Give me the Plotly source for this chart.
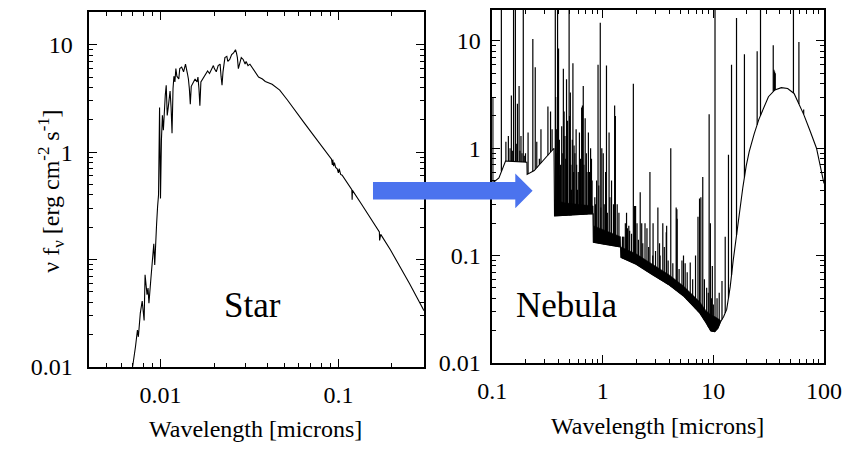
import numpy as np
import plotly.graph_objects as go

# ---------------- Star spectrum (wavelength in microns, nu f_nu) ----------------
star_wl = [0.00690, 0.00697, 0.00724, 0.00742, 0.00751, 0.00770, 0.00789, 0.00809, 0.00819,
           0.00840, 0.00851, 0.00861, 0.00883, 0.00905, 0.00917, 0.00928, 0.00940, 0.00951,
           0.00963, 0.00975, 0.00988, 0.01000, 0.01012, 0.01025, 0.01038, 0.01051, 0.01064,
           0.01077, 0.01091, 0.01105, 0.01118, 0.01132, 0.01147, 0.01161, 0.01176, 0.01190,
           0.01205, 0.01220, 0.01236, 0.01267, 0.01283, 0.01315, 0.01348, 0.01382, 0.01417,
           0.01435, 0.01453, 0.01471, 0.01489, 0.01527, 0.01565, 0.01604, 0.01624, 0.01645,
           0.01665, 0.01687, 0.01729, 0.01773, 0.01817, 0.01840, 0.01886, 0.01934, 0.01983,
           0.02008, 0.02058, 0.02110, 0.02163, 0.02190, 0.02218, 0.02246, 0.02302, 0.02360,
           0.02390, 0.02450, 0.02512, 0.02575, 0.02640, 0.02673, 0.02706, 0.02740, 0.02775,
           0.02845, 0.02917, 0.02990, 0.03028, 0.03104, 0.03183, 0.03303, 0.03428, 0.03558,
           0.03741, 0.03883, 0.0424, 0.0468, 0.0517, 0.0564, 0.0638, 0.0722, 0.0820,
           0.0915, 0.0925, 0.0930, 0.0940, 0.0950, 0.0965, 0.0985, 0.1000, 0.1010, 0.1030,
           0.1050, 0.1190, 0.1195, 0.1200, 0.1350, 0.1530, 0.1700, 0.1705, 0.1730, 0.1960,
           0.2220, 0.2510, 0.3030]
star_flux = [0.008, 0.010, 0.0155, 0.022, 0.019, 0.0316, 0.041, 0.027, 0.072,
             0.047, 0.054, 0.039, 0.066, 0.11, 0.14, 0.089, 0.175, 0.215,
             0.31, 0.40, 2.6, 0.37, 1.3, 2.2, 1.6, 2.6, 3.4,
             4.2, 2.2, 2.6, 3.2, 3.7, 2.6, 1.5, 3.9, 5.1,
             4.5, 6.0, 5.1, 4.8, 6.0, 6.2, 5.6, 6.6, 5.4,
             4.8, 3.9, 2.8, 4.1, 4.5, 4.8, 4.5, 5.0, 3.9,
             2.7, 4.5, 4.8, 5.1, 5.4, 5.7, 5.4, 6.0, 6.4,
             6.0, 5.6, 6.4, 6.6, 5.1, 4.2, 5.6, 7.6, 7.8,
             7.0, 7.3, 8.1, 8.4, 9.0, 8.4, 7.6, 6.0, 6.6,
             7.6, 7.3, 6.6, 7.0, 6.4, 6.6, 6.0, 5.4, 5.0,
             4.8, 4.55, 4.28, 3.78, 3.06, 2.49, 1.90, 1.45, 1.11,
             0.86, 0.76, 0.85, 0.74, 0.80, 0.72, 0.70, 0.64, 0.70, 0.62,
             0.61, 0.446, 0.36, 0.44, 0.327, 0.239, 0.18, 0.15, 0.171, 0.123,
             0.0865, 0.0596, 0.0333]

# ---------------- Nebula spectrum ----------------
neb_cont_wl = [0.100, 0.102, 0.115, 0.127, 0.132, 0.206, 0.207, 0.240, 0.300, 0.362,
               0.366, 0.450, 0.600, 0.818, 0.822, 1.00, 1.45, 1.46, 2.00, 2.77,
               4.00, 5.37, 7.55, 8.50, 9.50, 10.3, 11.0, 11.6, 12.4, 13.2,
               14.2, 15.1, 16.2, 17.3, 18.5, 19.8, 21.1, 23.4, 25.8, 31.5,
               36.0, 41.2, 47.0, 53.7, 65.6, 75.0, 85.7, 100.0]
neb_cont_flux = [0.45, 0.48, 0.53, 0.70, 0.76, 0.74, 0.57, 0.62, 0.80, 1.00,
                 0.234, 0.236, 0.240, 0.245, 0.133, 0.128, 0.120, 0.096, 0.083, 0.067,
                 0.053, 0.042, 0.029, 0.024, 0.0198, 0.0195, 0.021, 0.024, 0.027, 0.0315,
                 0.051, 0.089, 0.155, 0.27, 0.435, 0.68, 0.93, 1.36, 1.86, 3.02,
                 3.50, 3.67, 3.60, 3.24, 2.07, 1.45, 1.00, 0.47]

# dense blend of weak lines just above the continuum
forest_wl = [0.366, 0.45, 0.60, 0.818, 0.822, 1.00, 1.45, 1.46, 2.00, 2.77,
             4.00, 5.37, 7.55, 8.50, 9.50, 10.3, 11.0, 11.6]
forest_lo = [0.234, 0.236, 0.240, 0.245, 0.133, 0.128, 0.120, 0.096, 0.083, 0.067,
             0.053, 0.042, 0.029, 0.024, 0.0198, 0.0195, 0.021, 0.024]
forest_hi = [0.33, 0.31, 0.30, 0.29, 0.19, 0.175, 0.15, 0.12, 0.104, 0.084,
             0.066, 0.052, 0.037, 0.031, 0.028, 0.027, 0.026, 0.025]

# emission lines: wavelength (microns) and peak nu f_nu
line_wl = [0.1014, 0.121, 0.133, 0.140, 0.145, 0.149, 0.152, 0.156, 0.162, 0.165,
           0.169, 0.175, 0.178, 0.182, 0.186, 0.191, 0.195, 0.200, 0.211, 0.233,
           0.245, 0.253, 0.267, 0.276, 0.319, 0.337, 0.348, 0.372, 0.375, 0.380,
           0.384, 0.390, 0.395, 0.398, 0.405, 0.410, 0.415, 0.425, 0.435, 0.440,
           0.447, 0.455, 0.462, 0.470, 0.480, 0.496, 0.500, 0.509, 0.515, 0.520,
           0.530, 0.537, 0.545, 0.550, 0.560, 0.574, 0.580, 0.590, 0.600, 0.615,
           0.630, 0.644, 0.655, 0.666, 0.675, 0.693, 0.710, 0.720, 0.741, 0.760,
           0.776, 0.790, 0.800, 0.847, 0.860, 0.880, 0.906, 0.920, 0.949, 0.960,
           0.980, 1.01, 1.03, 1.06, 1.08, 1.10, 1.14, 1.16, 1.20, 1.25,
           1.28, 1.30, 1.35, 1.40, 1.51, 1.52, 1.55, 1.60, 1.64, 1.67,
           1.72, 1.75, 1.82, 1.89, 1.94, 1.98, 2.04, 2.10, 2.18, 2.25,
           2.30, 2.41, 2.51, 2.60, 2.67, 2.83, 2.85, 3.00, 3.15, 3.26,
           3.30, 3.49, 3.60, 3.75, 3.78, 3.90, 4.12, 4.30, 4.61, 4.68,
           4.70, 4.90, 5.20, 5.37, 5.56, 5.80, 6.18, 6.50, 6.90, 7.26,
           7.50, 7.71, 8.02, 8.30, 8.70, 9.00, 9.16, 9.40, 9.60, 9.79,
           10.0, 10.35, 10.8, 11.3, 11.97, 12.8, 13.7, 14.6, 16.2, 19.1,
           24.9, 26.7, 34.8, 35.3, 35.8, 36.3, 53.0, 59.4, 65.6]
line_peak = [3.0, 40.0, 1.15, 1.3, 1.0, 3.1, 0.95, 40.0, 30.0, 1.1,
             2.6, 3.8, 0.95, 1.3, 0.9, 30.0, 0.85, 0.9, 1.4, 10.4,
             5.7, 1.15, 0.8, 1.5, 2.45, 2.2, 1.5, 30.0, 3.0, 1.5,
             0.9, 20.0, 2.0, 8.5, 1.2, 0.56, 0.7, 1.6, 0.9, 5.5,
             2.2, 1.3, 0.8, 4.4, 1.8, 80.0, 2.0, 3.3, 0.7, 0.41,
             1.2, 6.2, 0.6, 1.06, 0.9, 1.5, 0.7, 0.41, 0.6, 1.4,
             0.8, 2.4, 2.5, 3.8, 0.7, 1.9, 0.9, 0.6, 1.4, 0.6,
             1.0, 0.8, 0.5, 0.35, 0.3, 0.5, 6.0, 0.45, 14.8, 0.28,
             1.0, 0.9, 0.3, 0.6, 5.9, 0.25, 1.4, 0.35, 0.5, 0.3,
             2.5, 2.0, 0.3, 0.25, 0.15, 0.15, 0.15, 0.2, 0.25, 0.18,
             0.19, 0.17, 0.16, 4.0, 0.29, 0.29, 0.2, 0.14, 0.39, 0.2,
             0.13, 0.2, 0.18, 0.12, 0.6, 0.10, 0.2, 0.11, 0.28, 0.13,
             0.10, 0.2, 0.12, 0.165, 0.19, 0.09, 1.0, 0.085, 0.28, 0.27,
             0.22, 0.075, 0.09, 0.10, 0.085, 0.07, 0.086, 0.06, 0.10, 0.23,
             0.34, 0.35, 0.54, 0.06, 0.05, 0.045, 2.07, 0.2, 0.04, 0.08,
             0.035, 30.0, 0.04, 0.045, 0.058, 0.15, 0.87, 6.0, 16.4, 7.5,
             8.0, 30.0, 9.1, 5.4, 5.2, 5.0, 30.0, 9.8, 2.3]

# The page body adds an 8 px margin, so the figure is drawn 8 px in from the window edge.
OFF = 8
W, H = 865 - OFF, 459 - OFF


def px(x):
    return (x - OFF) / W


def py(y):
    return min(1.0, 1 - (y - OFF) / H)


fig = go.Figure()

# Star
fig.add_trace(go.Scatter(x=star_wl, y=star_flux, mode='lines',
                         line=dict(color='black', width=1.1),
                         xaxis='x', yaxis='y', showlegend=False, hoverinfo='skip'))

# Nebula: blended forest
poly_x = forest_wl + forest_wl[::-1]
poly_y = forest_hi + forest_lo[::-1]
fig.add_trace(go.Scatter(x=poly_x, y=poly_y, mode='lines', fill='toself',
                         fillcolor='black', line=dict(color='black', width=0.5),
                         xaxis='x2', yaxis='y2', showlegend=False, hoverinfo='skip'))

# Nebula: continuum
fig.add_trace(go.Scatter(x=neb_cont_wl, y=neb_cont_flux, mode='lines',
                         line=dict(color='black', width=1.1),
                         xaxis='x2', yaxis='y2', showlegend=False, hoverinfo='skip'))

# Nebula: emission lines rising from the continuum
base = 10 ** np.interp(np.log10(line_wl), np.log10(neb_cont_wl), np.log10(neb_cont_flux))
sx, sy = [], []
for w, b, p in zip(line_wl, base, line_peak):
    sx += [w, w, None]
    sy += [float(b), p, None]
fig.add_trace(go.Scatter(x=sx, y=sy, mode='lines', line=dict(color='black', width=1.2),
                         xaxis='x2', yaxis='y2', showlegend=False, hoverinfo='skip',
                         connectgaps=False))

serif = 'Liberation Serif'
minor_vals = [m * 10.0 ** e for e in range(-4, 3) for m in range(2, 10)]


def log_axis(rng, domain, tickvals, ticktext, anchor, standoff):
    return dict(type='log', range=rng, domain=domain, anchor=anchor,
                showline=True, linecolor='black', linewidth=1.5, mirror=True,
                ticks='inside', ticklen=8, tickwidth=1, tickcolor='black',
                tickvals=tickvals, ticktext=ticktext,
                showgrid=False, zeroline=False, ticklabelstandoff=standoff,
                tickfont=dict(family=serif, size=24, color='black'),
                minor=dict(ticks='inside', ticklen=4, tickwidth=1, tickcolor='black',
                           tickvals=minor_vals, showgrid=False))


def mirror_axis(rng, tickvals, overlaying, side, anchor):
    return dict(type='log', range=rng, overlaying=overlaying, side=side, anchor=anchor,
                showline=False, ticks='inside', ticklen=8, tickwidth=1, tickcolor='black',
                tickvals=tickvals, showticklabels=False, showgrid=False, zeroline=False,
                minor=dict(ticks='inside', ticklen=4, tickwidth=1, tickcolor='black',
                           tickvals=minor_vals, showgrid=False))


# pixels per decade on the y axes is 111; right panel top is clipped to the page top (y=8)
sx_rng, sy_rng = [-2.4, -0.519], [-2.0, -2.0 + (377 - 10) / 111]
nx_rng, ny_rng = [-1.0, 2.0], [-2.0, -2.0 + (373 - OFF) / 111]
dec = [0.001, 0.01, 0.1, 1, 10, 100]

fig.update_layout(
    width=W, height=H, margin=dict(l=0, r=0, t=0, b=0),
    paper_bgcolor='white', plot_bgcolor='white', showlegend=False,
    xaxis=log_axis(sx_rng, [px(77), px(425)], [0.01, 0.1], ['0.01', '0.1'], 'y', 6),
    yaxis=log_axis(sy_rng, [py(377), py(10)], [0.01, 0.1, 1, 10],
                   ['0.01', '', '1', '10'], 'x', 10),
    xaxis2=log_axis(nx_rng, [px(496), px(841)], [0.1, 1, 10, 100],
                    ['0.1', '1', '10', '100'], 'y2', 6),
    yaxis2=log_axis(ny_rng, [py(373), py(OFF)], [0.01, 0.1, 1, 10],
                    ['0.01', '0.1', '1', '10'], 'x2', 5),
    xaxis3=mirror_axis(sx_rng, dec, 'x', 'top', 'y'),
    yaxis3=mirror_axis(sy_rng, dec, 'y', 'right', 'x'),
    xaxis4=mirror_axis(nx_rng, dec, 'x2', 'top', 'y2'),
    yaxis4=mirror_axis(ny_rng, dec, 'y2', 'right', 'x2'),
)

# invisible traces so the mirror axes are drawn
fig.add_trace(go.Scatter(x=[0.01], y=[1], xaxis='x3', yaxis='y3', mode='markers',
                         marker=dict(opacity=0), showlegend=False, hoverinfo='skip'))
fig.add_trace(go.Scatter(x=[1], y=[1], xaxis='x4', yaxis='y4', mode='markers',
                         marker=dict(opacity=0), showlegend=False, hoverinfo='skip'))

annots = [
    dict(text='Wavelength [microns]', x=px(250), y=py(441), size=24),
    dict(text='Wavelength [microns]', x=px(668), y=py(438), size=24),
    dict(text='Star', x=px(247), y=py(314), size=35),
    dict(text='Nebula', x=px(574), y=py(314), size=35),
]
for a in annots:
    fig.add_annotation(text=a['text'], x=a['x'], y=a['y'], xref='paper', yref='paper',
                       showarrow=False, xanchor='center', yanchor='middle',
                       font=dict(family=serif, size=a['size'], color='black'))

fig.add_annotation(text='ν f<sub>ν</sub> [erg cm<sup>-2</sup> s<sup>-1</sup>]',
                   x=px(37), y=py(195), xref='paper', yref='paper', showarrow=False,
                   textangle=-90, xanchor='center', yanchor='middle',
                   font=dict(family=serif, size=24, color='black'))

# Blue arrow from the star panel to the nebula panel
arrow_px = [(372, 186), (520, 186), (520, 177), (538, 195), (520, 213), (520, 204), (372, 204)]
path = 'M ' + ' L '.join(f'{px(x):.5f},{py(y):.5f}' for x, y in arrow_px) + ' Z'
fig.add_shape(type='path', path=path, xref='paper', yref='paper',
              fillcolor='#4b73ee', line=dict(width=0), layer='above')

fig.write_html('out.html')
